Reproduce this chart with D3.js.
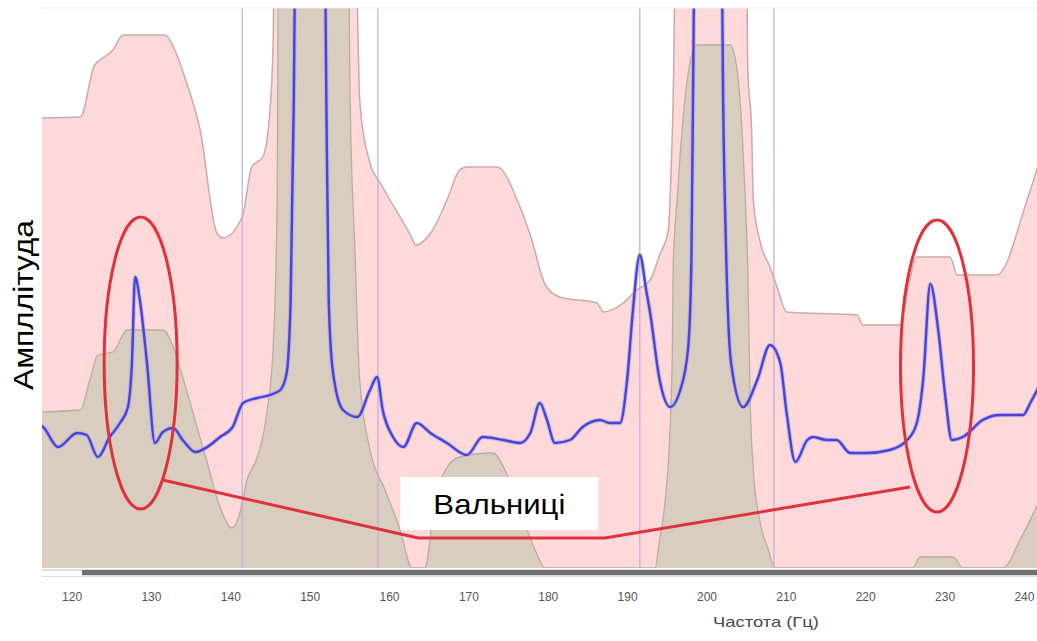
<!DOCTYPE html>
<html>
<head>
<meta charset="utf-8">
<script src="https://cdn.jsdelivr.net/npm/d3@7"></script>
<style>
  html, body { margin: 0; padding: 0; background: #fff; }
  svg { display: block; font-family: "Liberation Sans", Arial, sans-serif; }
</style>
</head>
<body>
<div id="chart"></div>
<script>
// frequency (Hz) ticks on the bottom axis
const tickFreqs = [120, 130, 140, 150, 160, 170, 180, 190, 200, 210, 220, 230, 240];

// upper (pink) envelope: [freq, amplitude]
const envelope = [[116.0,450],[121.1,451],[122.9,503],[123.6,508],[125.2,518],[126.5,533],[131.8,533],[133.0,518],
  [134.5,485],[136.2,438],[138.3,335],[139.1,330],[141.5,351],[142.7,401],[144.1,411],[145.0,458],[145.4,528],
  [145.6,668],[155.7,668],[156.1,528],[156.3,468],[157.6,405],[158.9,385],[159.9,371],[163.0,328],[163.3,323],
  [165.5,338],[167.3,368],[168.9,398],[169.8,401],[173.6,401],[176.5,361],[177.8,333],[179.7,283],[181.5,271],
  [186.2,265],[187.0,256],[189.5,265],[191.2,278],[192.9,288],[194.1,313],[195.2,338],[195.5,388],[195.8,468],
  [196.2,668],[205.0,668],[205.2,501],[205.7,435],[205.9,368],[206.7,328],[208.0,301],[208.9,281],[210.1,256],
  [219.0,253],[219.7,243],[224.4,243],[225.6,288],[226.5,311],[230.7,311],[231.6,293],[236.6,293],[240.4,368],
  [242.0,408]];

// reference (tan) spectrum: [freq, amplitude]
const reference = [[116.0,156],[121.1,158],[122.3,188],[123.3,213],[125.2,216],[127.0,238],[131.5,238],[132.8,221],
  [134.0,191],[135.3,155],[137.1,105],[138.7,61],[140.2,40],[141.2,55],[142.1,88],[143.4,111],[144.6,155],
  [145.4,221],[145.9,368],[146.1,668],[154.8,668],[155.1,468],[155.7,318],[156.3,188],[157.6,118],[159.5,78],
  [161.4,38],[162.9,0],[164.5,0],[165.8,68],[167.1,98],[168.9,111],[173.1,115],[174.6,98],[176.5,58],[178.4,18],
  [179.7,0],[193.5,0],[194.1,28],[194.8,68],[195.4,138],[195.7,218],[195.8,301],[196.3,368],[196.9,435],
  [197.7,495],[198.8,523],[203.0,523],[203.8,501],[204.5,435],[204.9,368],[205.2,301],[205.5,168],[205.9,98],
  [206.7,48],[207.8,18],[208.6,0],[226.0,0],[226.9,11],[231.1,11],[232.3,0],[237.4,0],[239.5,28],[242.0,68]];

// measured spectrum (blue): [freq, amplitude]
const spectrum = [[116.0,143],[116.4,141],[118.3,121],[120.7,135],[121.9,133],[123.3,111],[124.8,131],[126.1,145],
  [127.1,161],[127.6,205],[128.0,291],[128.6,268],[129.5,205],[130.5,125],[131.5,136],[132.8,140],[134.0,128],
  [135.6,116],[137.1,121],[138.7,131],[140.3,141],[141.6,165],[143.4,170],[145.0,173],[146.3,178],[147.1,195],
  [147.6,268],[148.0,468],[148.3,718],[150.0,1068],[151.8,718],[152.1,468],[152.4,268],[152.9,198],[154.2,158],
  [156.0,151],[157.6,178],[158.5,191],[159.2,158],[160.5,131],[161.8,121],[163.5,145],[165.2,135],[167.3,125],
  [169.8,113],[171.8,131],[174.4,128],[176.5,125],[177.8,135],[179.0,165],[179.9,148],[180.9,125],[182.8,128],
  [184.4,141],[186.6,148],[187.8,145],[189.1,145],[190.0,188],[190.7,255],[191.6,313],[192.4,278],[192.9,255],
  [194.1,188],[195.4,161],[196.7,178],[197.7,221],[198.1,308],[198.3,468],[198.6,718],[200.2,1068],[201.8,718],
  [202.1,468],[202.5,308],[203.1,205],[204.6,161],[206.4,188],[208.0,223],[209.3,205],[210.1,155],[211.2,106],
  [212.7,128],[213.4,131],[215.2,128],[216.4,128],[218.1,115],[220.2,115],[223.1,118],[225.3,128],[226.5,145],
  [227.3,188],[228.2,284],[229.2,238],[230.1,171],[230.9,128],[232.3,131],[234.8,148],[237.0,153],[239.9,153],
  [240.8,165],[242.0,183]];

// vertical band markers (Hz)
const markerFreqs = [141.5, 158.6, 191.6, 208.5];

// annotation: circled peaks and the leader line to the label
const circledPeaks = [[128.7, 205], [229.05, 202]];
const leader = [[131.5, 88], [163.65, 30], [187.2, 30], [225.65, 81]];
const labelPos = [173.9, 64.5];

const W = 1037, H = 641;
const plot = {left: 42, right: 1037, top: 8, bottom: 568};

const svg = d3.select('#chart').append('svg')
    .attr('width', W)
    .attr('height', H);

const x = d3.scaleLinear().domain([120, 240]).range([71.6, 71.6 + 7.936 * 120]);
const y = d3.scaleLinear().domain([0, 560]).range([plot.bottom, plot.top]);

svg.append('clipPath').attr('id', 'clip')
  .append('rect')
    .attr('x', plot.left).attr('y', plot.top)
    .attr('width', plot.right - plot.left).attr('height', plot.bottom - plot.top);

const g = svg.append('g').attr('clip-path', 'url(#clip)');

const area = d3.area()
    .x(d => x(d[0]))
    .y0(y(0))
    .y1(d => y(d[1]))
    .curve(d3.curveMonotoneX);
const line = d3.line()
    .x(d => x(d[0]))
    .y(d => y(d[1]))
    .curve(d3.curveMonotoneX);

// pink envelope
g.append('path').datum(envelope)
    .attr('d', area)
    .attr('fill', '#fdd9d9');
g.append('path').datum(envelope)
    .attr('d', line)
    .attr('fill', 'none')
    .attr('stroke', '#cbaaaa')
    .attr('stroke-width', 1.5);

// tan reference
g.append('path').datum(reference)
    .attr('d', area)
    .attr('fill', '#d9cdbf');
g.append('path').datum(reference)
    .attr('d', line)
    .attr('fill', 'none')
    .attr('stroke', '#b9ada2')
    .attr('stroke-width', 1.3);

// vertical markers
g.selectAll('line.marker').data(markerFreqs).enter().append('line')
    .attr('class', 'marker')
    .attr('x1', d => x(d)).attr('x2', d => x(d))
    .attr('y1', plot.top).attr('y2', plot.bottom)
    .attr('stroke', '#c2acd8')
    .attr('stroke-width', 1.2);

// blue spectrum with soft halo
g.append('path').datum(spectrum)
    .attr('d', line)
    .attr('fill', 'none')
    .attr('stroke', '#a9a6f0')
    .attr('stroke-width', 4.5)
    .attr('stroke-opacity', 0.6);
g.append('path').datum(spectrum)
    .attr('d', line)
    .attr('fill', 'none')
    .attr('stroke', '#4a44d6')
    .attr('stroke-width', 2.4);

// top border
svg.append('line')
    .attr('x1', plot.left).attr('x2', plot.right)
    .attr('y1', plot.top).attr('y2', plot.top)
    .attr('stroke', '#eeeeee');

// bottom scroll bar
svg.append('rect')
    .attr('x', plot.left).attr('y', 569)
    .attr('width', plot.right - plot.left).attr('height', 8)
    .attr('fill', '#dedede');
svg.append('rect')
    .attr('x', 82).attr('y', 570)
    .attr('width', plot.right - 82).attr('height', 5)
    .attr('fill', '#707070');
svg.append('rect')
    .attr('x', plot.left).attr('y', 571)
    .attr('width', 40).attr('height', 5)
    .attr('fill', '#ffffff');

// x axis labels
const xAxis = d3.axisBottom(x)
    .tickValues(tickFreqs)
    .tickSize(0)
    .tickPadding(3);
const ax = svg.append('g')
    .attr('transform', `translate(0, 589)`)
    .call(xAxis);
ax.select('.domain').remove();
ax.selectAll('text')
    .attr('font-size', 12)
    .attr('font-family', '"Liberation Sans", Arial, sans-serif')
    .attr('fill', '#555');

svg.append('text')
    .attr('x', 766).attr('y', 627)
    .attr('text-anchor', 'middle')
    .attr('font-size', 15)
    .attr('textLength', 106)
    .attr('lengthAdjust', 'spacingAndGlyphs')
    .attr('fill', '#4a4a4a')
    .text('Частота (Гц)');

// y label
svg.append('text')
    .attr('transform', 'translate(33, 305) rotate(-90)')
    .attr('text-anchor', 'middle')
    .attr('font-size', 28)
    .attr('textLength', 170)
    .attr('lengthAdjust', 'spacingAndGlyphs')
    .attr('fill', '#000')
    .text('Ампллітуда');

// annotation
const ann = svg.append('g');
ann.selectAll('ellipse').data(circledPeaks).enter().append('ellipse')
    .attr('cx', d => x(d[0]))
    .attr('cy', d => y(d[1]))
    .attr('rx', 36.5)
    .attr('ry', 146)
    .attr('fill', 'none')
    .attr('stroke', '#e0323c')
    .attr('stroke-width', 3);

ann.append('path').datum(leader)
    .attr('d', d3.line().x(d => x(d[0])).y(d => y(d[1])))
    .attr('fill', 'none')
    .attr('stroke', '#e0323c')
    .attr('stroke-width', 3);

const lx = x(labelPos[0]), ly = y(labelPos[1]);
ann.append('rect')
    .attr('x', lx - 99).attr('y', ly - 26.5)
    .attr('width', 198).attr('height', 53)
    .attr('fill', '#ffffff');
ann.append('text')
    .attr('x', lx).attr('y', ly + 10)
    .attr('text-anchor', 'middle')
    .attr('font-size', 28)
    .attr('textLength', 132)
    .attr('lengthAdjust', 'spacingAndGlyphs')
    .attr('fill', '#000')
    .text('Вальниці');
</script>
</body>
</html>
